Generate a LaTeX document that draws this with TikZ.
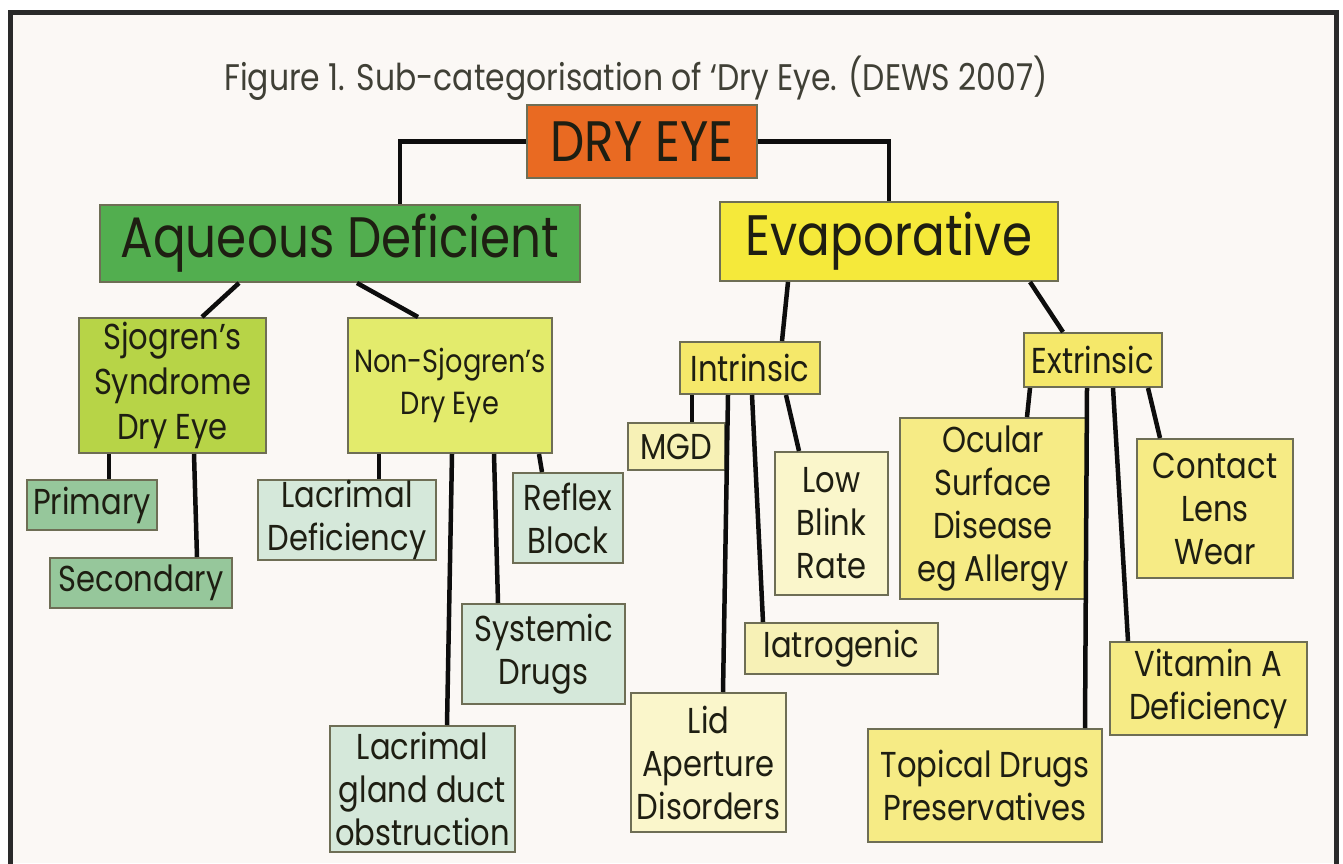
\documentclass[tikz,border=0pt]{standalone}
\usepackage{fontspec}
\setmainfont{Poppins}[FakeStretch=0.85]
\definecolor{paper}{HTML}{FBF8F5}
\definecolor{frameblack}{HTML}{2A2A2A}
\definecolor{ink}{HTML}{1E1E12}
\definecolor{boxline}{HTML}{6E6E55}
\definecolor{dryorange}{HTML}{E96A22}
\definecolor{aqgreen}{HTML}{52AE4F}
\definecolor{evyellow}{HTML}{F5E93A}
\definecolor{sjgreen}{HTML}{B7D447}
\definecolor{nsjyellow}{HTML}{E3EB6C}
\definecolor{midgreen}{HTML}{96C79B}
\definecolor{palegreen}{HTML}{D5E8DA}
\definecolor{inyellow}{HTML}{F5E86A}
\definecolor{lightyellow}{HTML}{F7F1B6}
\definecolor{paleyellow}{HTML}{FAF6CB}
\definecolor{exyellow}{HTML}{F6EB85}
\tikzset{
  box/.style={draw=boxline, line width=2pt, align=center, inner sep=0pt, text=ink},
  link/.style={draw=black!95, line width=4.5pt},
  bigtext/.style={font=\fontsize{57}{62}\selectfont},
  midtext/.style={font=\fontsize{36}{45}\selectfont},
  smalltext/.style={font=\fontsize{36}{43}\selectfont}
}
\begin{document}
\begin{tikzpicture}[x=1pt,y=-1pt]
\useasboundingbox (0,0) rectangle (1343,863);
% Paper and frame
\fill[white] (0,0) rectangle (1343,863);
\fill[paper] (10,12) rectangle (1336,863);
\draw[frameblack, line width=5pt] (10,866) -- (10,12) -- (1336,12) -- (1336,866);
% Title
\node[text=ink!85, font=\fontsize{37}{42}\selectfont] (title) at (636,78)
  {Figure 1. Sub-categorisation of `Dry Eye. (DEWS 2007)};
% Top levels
\node[box, fill=dryorange, bigtext, minimum width=230, minimum height=73] (dryeye) at (642,141.5) {DRY EYE};
\node[box, fill=aqgreen, bigtext, minimum width=480, minimum height=77] (aqueous) at (340,243.5) {Aqueous Deficient};
\node[box, fill=evyellow, bigtext, minimum width=338, minimum height=79] (evap) at (889,241.5) {Evaporative};
% Aqueous side
\node[box, fill=sjgreen, midtext, minimum width=187, minimum height=135] (sjogren) at (172.5,385.5) {Sjogren's\\Syndrome\\Dry Eye};
\node[box, fill=nsjyellow, font=\fontsize{32}{42}\selectfont, minimum width=204, minimum height=135] (nonsjogren) at (450,385.5) {Non-Sjogren's\\Dry Eye};
\node[box, fill=midgreen, smalltext, minimum width=130, minimum height=50] (primary) at (92,505) {Primary};
\node[box, fill=midgreen, smalltext, minimum width=182, minimum height=50] (secondary) at (141,583) {Secondary};
\node[box, fill=palegreen, smalltext, minimum width=178, minimum height=80] (lacdef) at (347,520) {Lacrimal\\Deficiency};
\node[box, fill=palegreen, smalltext, minimum width=110, minimum height=90] (reflex) at (568,518) {Reflex\\Block};
\node[box, fill=palegreen, smalltext, minimum width=163, minimum height=100] (systemic) at (543.5,654) {Systemic\\Drugs};
\node[box, fill=palegreen, smalltext, minimum width=185, minimum height=126] (glandduct) at (422.5,789) {Lacrimal\\gland duct\\obstruction};
% Evaporative side
\node[box, fill=inyellow, smalltext, minimum width=140, minimum height=52] (intrinsic) at (750,368) {Intrinsic};
\node[box, fill=inyellow, smalltext, minimum width=138, minimum height=54] (extrinsic) at (1093,360) {Extrinsic};
\node[box, fill=lightyellow, smalltext, minimum width=97, minimum height=47] (mgd) at (676.5,446.5) {MGD};
\node[box, fill=paleyellow, smalltext, minimum width=113, minimum height=143] (lowblink) at (831.5,523.5) {Low\\Blink\\Rate};
\node[box, fill=lightyellow, smalltext, minimum width=193, minimum height=51] (iatro) at (841.5,648.5) {Iatrogenic};
\node[box, fill=paleyellow, smalltext, minimum width=155, minimum height=139] (lid) at (708.5,762.5) {Lid\\Aperture\\Disorders};
\node[box, fill=exyellow, smalltext, minimum width=186, minimum height=181] (ocular) at (993,508.5) {Ocular\\Surface\\Disease\\eg Allergy};
\node[box, fill=exyellow, smalltext, minimum width=156, minimum height=139] (contact) at (1215,508.5) {Contact\\Lens\\Wear};
\node[box, fill=exyellow, smalltext, minimum width=197, minimum height=93] (vitamin) at (1208.5,688.5) {Vitamin A\\Deficiency};
\node[box, fill=exyellow, smalltext, minimum width=234, minimum height=113] (topical) at (985,785.5) {Topical Drugs\\Preservatives};
% Links from the top
\draw[link] (dryeye.west) -| ([xshift=301]aqueous.north west);
\draw[link] (dryeye.east) -| (evap.north);
\draw[link] ([xshift=140]aqueous.south west) -- ([xshift=124]sjogren.north west);
\draw[link] ([xshift=258]aqueous.south west) -- ([xshift=71]nonsjogren.north west);
\draw[link] ([xshift=69]evap.south west) -- ([xshift=103]intrinsic.north west);
\draw[link] ([xshift=311]evap.south west) -- ([xshift=40]extrinsic.north west);
% Links, aqueous side
\draw[link] ([xshift=31]sjogren.south west) -- ([xshift=83]primary.north west);
\draw[link] ([xshift=116]sjogren.south west) -- ([xshift=148]secondary.north west);
\draw[link] ([xshift=32]nonsjogren.south west) -- ([xshift=122]lacdef.north west);
\draw[link] ([xshift=105]nonsjogren.south west) -- ([xshift=118]glandduct.north west);
\draw[link] ([xshift=147]nonsjogren.south west) -- ([xshift=37]systemic.north west);
\draw[link] ([xshift=192]nonsjogren.south west) -- ([xshift=30]reflex.north west);
% Links, evaporative side
\draw[link] ([xshift=13]intrinsic.south west) -- ([xshift=65]mgd.north west);
\draw[link] ([xshift=49]intrinsic.south west) -- ([xshift=93]lid.north west);
\draw[link] ([xshift=73]intrinsic.south west) -- ([xshift=19]iatro.north west);
\draw[link] ([xshift=107]intrinsic.south west) -- ([xshift=25]lowblink.north west);
\draw[link] ([xshift=7]extrinsic.south west) -- ([xshift=128]ocular.north west);
\draw[link] ([xshift=64]extrinsic.south west) -- ([xshift=218]topical.north west);
\draw[link] ([xshift=90]extrinsic.south west) -- ([xshift=19]vitamin.north west);
\draw[link] ([xshift=125]extrinsic.south west) -- ([xshift=24]contact.north west);
\end{tikzpicture}
\end{document}
